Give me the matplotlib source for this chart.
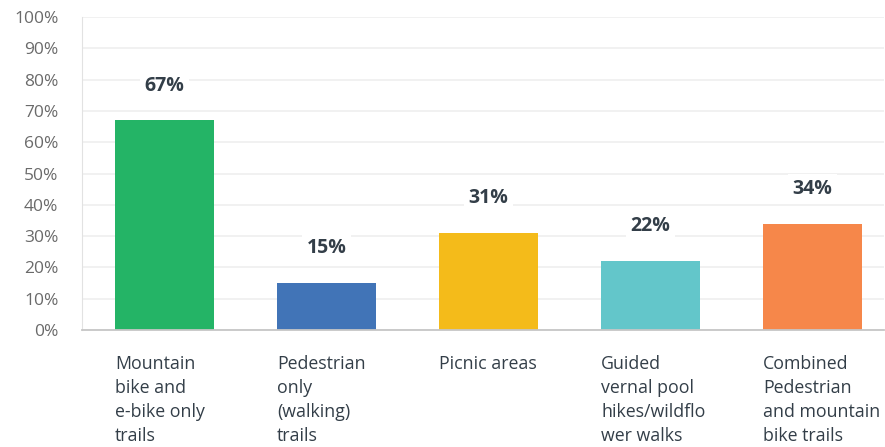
import numpy as np
import matplotlib.pyplot as plt

categories = [
    "Mountain\nbike and\ne-bike only\ntrails",
    "Pedestrian\nonly\n(walking)\ntrails",
    "Picnic areas",
    "Guided\nvernal pool\nhikes/wildflo\nwer walks",
    "Combined\nPedestrian\nand mountain\nbike trails",
]
values = [67, 15, 31, 22, 34]
colors = ["#24b466", "#4174b7", "#f4bb1a", "#63c6ca", "#f6874a"]

plt.rcParams["font.family"] = ["Open Sans", "DejaVu Sans"]

fig = plt.figure(figsize=(8.85, 4.47), dpi=100)
ax = fig.add_axes([82 / 885, 1 - 330 / 447, 802 / 885, 313 / 447])

x = np.arange(len(values))
width = 0.61
bars = ax.bar(x, values, width=width, color=colors, zorder=2)

ax.set_ylim(0, 100)
ax.set_xlim(-0.51, 802 / 162 - 0.51)
ax.set_yticks(np.arange(0, 101, 10))
ax.set_yticklabels([f"{v}%" for v in range(0, 101, 10)], fontsize=12.5, color="#6a6a6a")
ax.tick_params(axis="y", length=0, pad=17)
ax.set_xticks([])

ax.grid(axis="y", color="#efefef", linewidth=1.2, zorder=0)
for s in ["top", "right"]:
    ax.spines[s].set_visible(False)
ax.spines["left"].set_color("#e2e2e2")
ax.spines["bottom"].set_color("#c6c6c6")
ax.spines["bottom"].set_linewidth(1.3)

for xi, v in zip(x, values):
    ax.annotate(f"{v}%", (xi, v), xytext=(0, 25), textcoords="offset points",
                ha="center", va="center", fontsize=14, fontweight="bold",
                color="#333e48", zorder=3,
                bbox=dict(boxstyle="square,pad=0.25", fc="white", ec="none"))

for xi, lab in zip(x, categories):
    ax.annotate(lab, (xi - width / 2, 0), xytext=(0, -18), textcoords="offset points",
                ha="left", va="top", fontsize=12.8, color="#333e48",
                linespacing=1.42, annotation_clip=False)

fig.savefig("out.png", dpi=100)
